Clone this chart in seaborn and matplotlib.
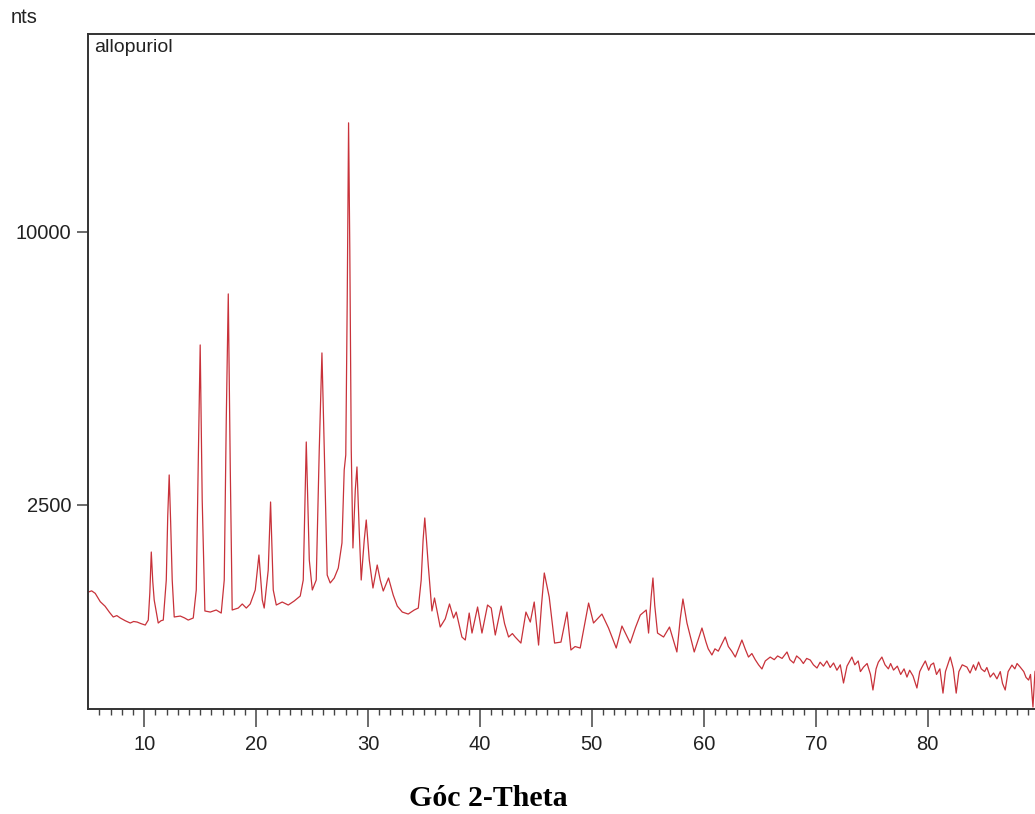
import numpy as np
import pandas as pd
import matplotlib
matplotlib.use('Agg')
import matplotlib.pyplot as plt
import seaborn as sns

# XRD pattern of allopurinol
# 5 - 36 deg : main peaks
theta_low = [5.00, 5.30, 5.62, 6.07, 6.50, 6.90, 7.23, 7.55, 7.86, 8.30,
             8.75, 9.05, 9.37, 9.70, 10.09, 10.36, 10.50, 10.63, 10.76, 10.89,
             11.25, 11.50, 11.70, 11.97, 12.10, 12.23, 12.36, 12.50, 12.68, 13.22,
             13.60, 13.93, 14.38, 14.65, 14.83, 15.00, 15.18, 15.42, 15.90, 16.43,
             16.88, 17.15, 17.33, 17.51, 17.69, 17.86, 18.40, 18.76, 19.12, 19.47,
             19.92, 20.25, 20.55, 20.72, 21.08, 21.29, 21.53, 21.80, 22.33, 22.87,
             23.40, 23.94, 24.21, 24.35, 24.48, 24.62, 24.75, 25.02, 25.37, 25.64,
             25.88, 26.09, 26.35, 26.62, 26.98, 27.34, 27.67, 27.87, 28.01, 28.14,
             28.26, 28.37, 28.50, 28.65, 28.86, 29.01, 29.21, 29.39, 29.66, 29.84,
             30.11, 30.44, 30.82, 31.09, 31.36, 31.83, 32.25, 32.61, 33.06, 33.59,
             34.13, 34.49, 34.75, 34.92, 35.07, 35.22, 35.38, 35.71, 35.94]
counts_low = [1160, 1175, 1144, 1043, 990, 920, 870, 885, 859, 830,
              806, 822, 816, 800, 785, 837, 1150, 1713, 1300, 1063,
              806, 830, 837, 1315, 2300, 3080, 2200, 1315, 870, 880,
              860, 837, 859, 1186, 3392, 6289, 2593, 936, 924, 947,
              913, 1315, 4299, 7858, 3182, 947, 969, 1016, 969, 1016,
              1186, 1668, 1063, 969, 1451, 2555, 1186, 1004, 1039, 1004,
              1051, 1111, 1315, 2400, 3787, 2500, 1594, 1186, 1315, 3609,
              6059, 3609, 1382, 1276, 1342, 1479, 1853, 3182, 3500, 7665,
              14392, 9352, 3609, 1775, 2782, 3245, 2063, 1315, 1900, 2233,
              1594, 1211, 1522, 1315, 1173, 1342, 1123, 992, 924, 902,
              947, 969, 1315, 1900, 2268, 1900, 1522, 936, 1087]

# 36 - 60 deg : smaller reflections
theta_mid = [36.45, 36.90, 37.28, 37.64, 37.88, 38.39, 38.69, 39.04, 39.29, 39.79,
             40.18, 40.68, 41.01, 41.37, 41.90, 42.20, 42.56, 42.90, 43.15, 43.66,
             44.11, 44.50, 44.85, 45.24, 45.50, 45.75, 46.19, 46.67, 47.24, 47.78,
             48.13, 48.50, 48.96, 49.71, 50.15, 50.90, 51.49, 52.18, 52.69, 53.43,
             53.90, 54.33, 54.86, 55.07, 55.30, 55.46, 55.62, 55.87, 56.41, 56.94,
             57.60, 57.90, 58.14, 58.50, 59.15, 59.84]
counts_mid = [765, 850, 1016, 859, 924, 667, 639, 913, 705, 981,
              705, 1004, 969, 686, 992, 800, 667, 700, 667, 611,
              924, 816, 1039, 593, 1000, 1410, 1099, 611, 620, 924,
              550, 580, 567, 1027, 806, 902, 755, 567, 775, 611,
              760, 891, 947, 705, 1100, 1342, 1000, 705, 667, 765,
              533, 850, 1075, 806, 533, 755]

# 60 - 90 deg : noisy background
theta_high = [60.20, 60.40, 60.73, 61.00, 61.30, 61.60, 61.92, 62.20, 62.50, 62.82,
              63.10, 63.41, 63.70, 64.00, 64.30, 64.60, 64.90, 65.20, 65.50, 65.94,
              66.30, 66.60, 67.00, 67.44, 67.70, 68.03, 68.30, 68.62, 68.90, 69.20,
              69.52, 69.80, 70.12, 70.40, 70.70, 71.00, 71.30, 71.60, 71.90, 72.20,
              72.49, 72.80, 73.24, 73.50, 73.80, 74.00, 74.28, 74.60, 74.90, 75.12,
              75.40, 75.60, 75.92, 76.20, 76.50, 76.70, 76.96, 77.30, 77.60, 77.90,
              78.16, 78.40, 78.70, 79.05, 79.30, 79.50, 79.80, 80.10, 80.30, 80.54,
              80.80, 81.10, 81.38, 81.60, 82.03, 82.30, 82.56, 82.80, 83.10, 83.52,
              83.80, 84.10, 84.30, 84.56, 84.80, 85.10, 85.30, 85.60, 85.90, 86.20,
              86.50, 86.70, 86.94, 87.20, 87.54, 87.80, 88.00, 88.28, 88.60, 88.80,
              89.03, 89.20, 89.42, 89.60, 89.90]
counts_high = [620, 560, 508, 560, 540, 600, 667, 580, 540, 491,
               560, 639, 560, 491, 520, 470, 430, 399, 460, 491,
               470, 500, 480, 533, 470, 444, 500, 475, 440, 480,
               467, 430, 406, 450, 420, 460, 410, 444, 390, 430,
               303, 420, 491, 430, 460, 380, 413, 440, 360, 260,
               400, 450, 491, 430, 400, 440, 391, 420, 360, 400,
               342, 390, 350, 272, 380, 413, 460, 390, 430, 444,
               360, 400, 242, 380, 491, 400, 242, 380, 430, 413,
               370, 430, 390, 451, 400, 380, 410, 342, 370, 330,
               380, 300, 260, 380, 428, 400, 440, 413, 380, 340,
               322, 360, 169, 380, 420]

two_theta = theta_low + theta_mid + theta_high
counts = counts_low + counts_mid + counts_high

x_ticks = [10, 20, 30, 40, 50, 60, 70, 80]
y_ticks = [2500, 10000]

df = pd.DataFrame({'two_theta': two_theta, 'counts': counts})

sns.set_style('white')
plt.rcParams['font.family'] = ['Liberation Sans', 'DejaVu Sans']

fig = plt.figure(figsize=(10.35, 8.14), dpi=100)
ax = fig.add_axes([0.0853, 0.129, 0.919, 0.829])

sns.lineplot(data=df, x='two_theta', y='counts', ax=ax, color='#c8323a',
             linewidth=0.9, estimator=None, sort=False)

# square-root intensity axis
ax.set_yscale('function', functions=(np.sqrt, lambda v: np.square(v)))
ax.set_xlim(5, 90)
ax.set_ylim(160, 18550)
ax.set_xticks(x_ticks)
ax.set_xticks(np.arange(6, 90, 1), minor=True)
ax.set_yticks(y_ticks)
ax.set_yticks([], minor=True)
ax.set_yticklabels([str(v) for v in y_ticks])
ax.set_xlabel('')
ax.set_ylabel('')

ax.tick_params(axis='x', which='major', direction='out', length=13, width=1.1,
               color='#444444', labelsize=14.5, labelcolor='#222222', pad=6, bottom=True)
ax.tick_params(axis='x', which='minor', direction='out', length=4.5, width=1.0,
               color='#444444', bottom=True)
ax.tick_params(axis='y', which='major', direction='out', length=8, width=1.1,
               color='#444444', labelsize=14.5, labelcolor='#222222', pad=4, left=True)

for side in ['top', 'left', 'bottom', 'right']:
    ax.spines[side].set_color('#333333')
    ax.spines[side].set_linewidth(1.4)

ax.text(0.006, 0.993, 'allopuriol', transform=ax.transAxes, ha='left', va='top',
        fontsize=14, color='#222222')
fig.text(0.010, 0.979, 'nts', ha='left', va='center', fontsize=14.5, color='#222222')
fig.text(0.472, 0.019, 'Góc 2-Theta', ha='center', va='center', fontsize=21.5,
         fontweight='bold', family=['Liberation Serif', 'DejaVu Serif'], color='black')

fig.savefig('out.png', dpi=100)
